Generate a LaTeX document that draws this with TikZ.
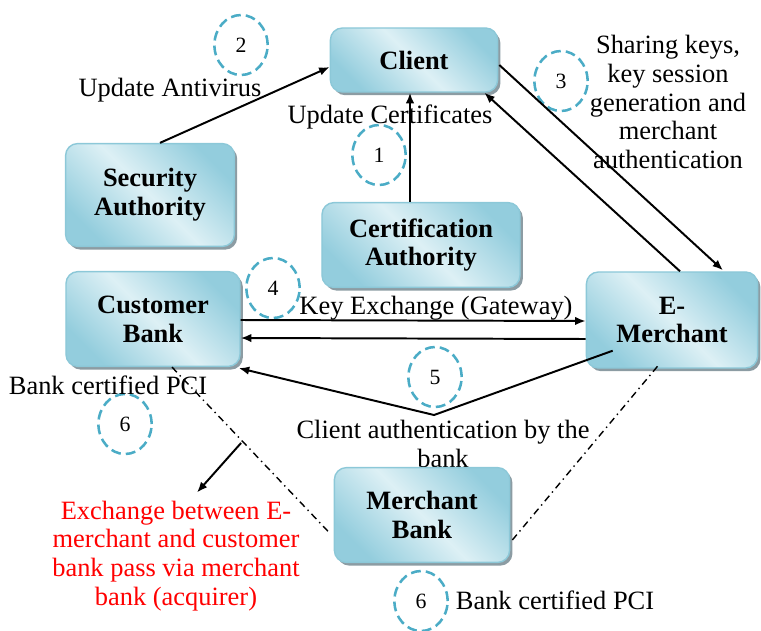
\documentclass[tikz,border=0pt]{standalone}
\usepackage{fontspec}
\setmainfont{Liberation Serif}
\usetikzlibrary{calc,shapes.geometric,shadows,arrows.meta}
\definecolor{aquadark}{HTML}{93CDDD}
\definecolor{aqualight}{HTML}{DDF0F5}
\definecolor{aquaedge}{HTML}{8CC8D8}
\definecolor{aquadash}{HTML}{4BACC6}
\definecolor{boxshadow}{HTML}{8C9CA3}
\tikzset{
	entity/.style={draw=aquaedge, line width=1pt, rounded corners=0.3cm,
		top color=aquadark, bottom color=aquadark, middle color=aqualight, shading angle=-45,
		drop shadow={shadow xshift=0.07cm, shadow yshift=-0.08cm, fill=boxshadow, opacity=1},
		font=\fontsize{18.8}{20.5}\selectfont\bfseries, align=center, inner sep=0pt},
	stepmark/.style={ellipse, draw=aquadash, line width=1.8pt, dash pattern=on 7pt off 3.6pt,
		minimum width=1.33cm, minimum height=1.5cm, inner sep=0pt, font=\fontsize{15.5}{18}\selectfont},
	flow/.style={line width=1.4pt, -{Latex[length=7.5pt,width=6pt]}},
	pcilink/.style={line width=1pt, dash pattern=on 5pt off 3pt on 1pt off 3pt}
}

\begin{document}
\begin{tikzpicture}[x=0.025cm, y=-0.025cm]
		\tikzstyle{every node}=[font=\fontsize{18.8}{20.5}\selectfont, align=center, inner sep=0pt]
		\useasboundingbox (0,0) rectangle (761,630);

		% step numbers
		\node[stepmark] (m1) at (379,155) {1};
		\node[stepmark] (m2) at (241,45) {2};
		\node[stepmark] (m3) at (561,81) {3};
		\node[stepmark] (m4) at (273,288) {4};
		\node[stepmark] (m5) at (435,377) {5};
		\node[stepmark] (m6a) at (125,424) {6};
		\node[stepmark] (m6b) at (421,601) {6};

		% labels
		\node (antivirus) at (170,90) {Update Antivirus};
		\node (certs) at (390,117) {Update Certificates};
		\node (sharing) at (668,102) {Sharing keys,\\key session\\generation and\\merchant\\authentication};
		\node (keyx) at (436,308) {Key Exchange (Gateway)};
		\node (clientauth) at (443,444) {Client authentication by the\\bank};
		\node (pcia) at (108,385) {Bank certified PCI};
		\node (pcib) at (555,600) {Bank certified PCI};
		\node[text=red] (note) at (176,556) {Exchange between E-\\merchant and customer\\bank pass via merchant\\bank (acquirer)};

		% -----------------------------------------------------
		% actors
		\node[entity, minimum width=4.18cm, minimum height=1.6cm] (client) at (414,60) {Client};
		\node[entity, minimum width=4.22cm, minimum height=2.57cm] (sec) at (150,195) {Security\\Authority};
		\node[entity, minimum width=4.95cm, minimum height=2.12cm] (cert) at (421,245) {Certification\\Authority};
		\node[entity, minimum width=4.35cm, minimum height=2.37cm] (cust) at (153,319) {Customer\\Bank};
		\node[entity, minimum width=4.28cm, minimum height=2.4cm] (emer) at (672,320) {E-\\Merchant};
		\node[entity, minimum width=4.38cm, minimum height=2.37cm] (mbank) at (422,515) {Merchant\\Bank};

		% -----------------------------------------------------
		% exchanges
		\draw[flow] ($(sec.north)+(10,0)$) -- ($(client.west)+(0,7)$);
		\draw[flow] ($(cert.north)+(-11,0)$) -- ($(client.south)+(-4,0)$);
		\draw[flow] ($(client.east)+(1,5)$) -- ($(emer.north)+(51,-1)$);
		\draw[flow] ($(emer.north)+(8,0)$) -- ($(client.south east)+(-14,0)$);
		\draw[flow] ($(cust.east)+(0,1)$) -- ($(emer.west)+(0,1)$);
		\draw[flow] ($(emer.west)+(0,19)$) -- ($(cust.east)+(0,19)$);
		\coordinate (meet) at (434,415);
		\draw[flow] ($(emer.south west)+(27,-18)$) -- (meet) -- ($(cust.south east)+(-2,1)$);

		% PCI links via the merchant bank
		\coordinate (custfoot) at ($(cust.south)+(19,0)$);
		\coordinate (mbankleft) at ($(mbank.west)+(-5,17)$);
		\draw[pcilink] (custfoot) -- (mbankleft);
		\draw[pcilink] ($(mbank.east)+(2,25)$) -- ($(emer.south)+(-14,-3)$);
		\coordinate (split) at ($(custfoot)!0.46!(mbankleft)$);
		\draw[flow] ($(split)+(-3,0)$) -- ($(note.north)+(21,-8)$);

\end{tikzpicture}
\end{document}
